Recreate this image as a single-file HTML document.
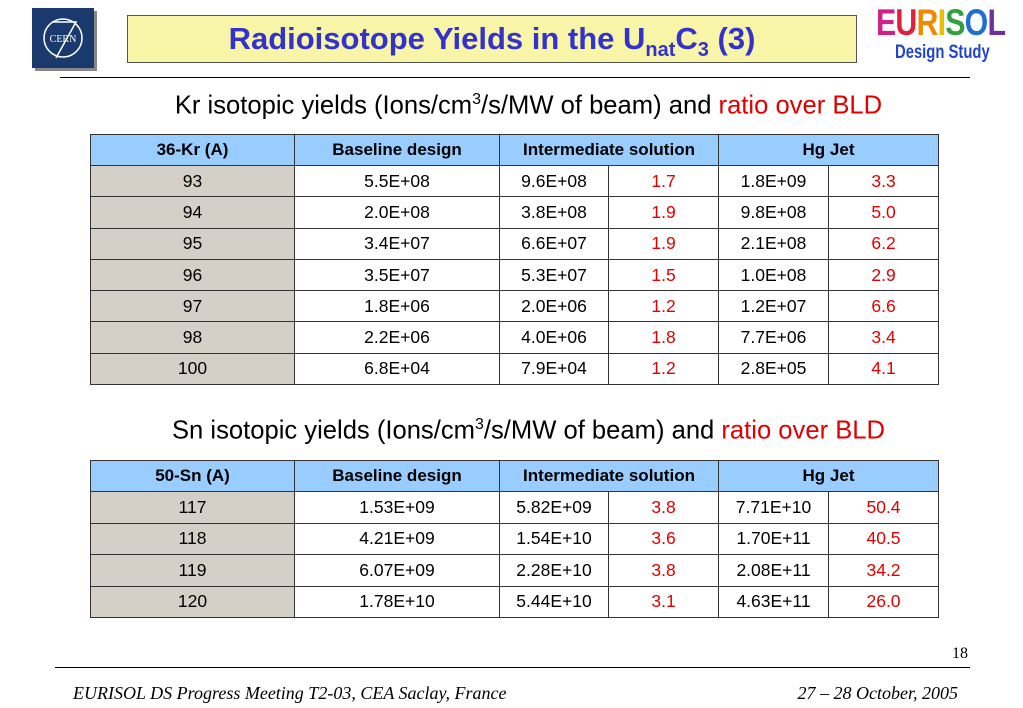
<!DOCTYPE html>
<html><head><meta charset="utf-8"><style>
body{margin:0;width:1023px;height:708px;background:#fff;position:relative;overflow:hidden;font-family:"Liberation Sans",sans-serif}
.abs{position:absolute}
table{position:absolute;border-collapse:collapse;left:90px;width:848px;table-layout:fixed}
td{border:1px solid #333;text-align:center;font-size:17.5px;padding:0;color:#000}
th{border:1px solid #333;background:#99ccff;font-size:17px;font-weight:bold;padding:0}
td.a{background:#d4d0c8}
td.r{color:#e00000}
.sub{font-size:25.6px;text-align:center;width:1023px;left:17px}
</style></head><body>
<div class="abs" style="left:32px;top:8px;width:62px;height:60px;background:#1a3a6e;box-shadow:3px 3px 0 #888;">
<svg width="62" height="60"><circle cx="31" cy="30" r="19" fill="none" stroke="#fff" stroke-width="1.5"/><path d="M20 14 L44 14 L24 50" fill="none" stroke="#fff" stroke-width="1.5"/><text x="31" y="34" fill="#fff" font-size="10" text-anchor="middle" font-family="Liberation Serif">CERN</text></svg></div>
<div class="abs" style="left:127px;top:15px;width:728px;height:46px;background:#f8f4a8;border:1px solid #555;text-align:center;line-height:46px;color:#3333cc;font-weight:bold;font-size:31px">Radioisotope Yields in the U<sub style="font-size:20px">nat</sub>C<sub style="font-size:20px">3</sub> (3)</div>
<div class="abs" style="left:876px;top:2px;font-weight:bold;font-size:37px;letter-spacing:-1px;transform:scaleX(0.82);transform-origin:left"><span style="color:#d0208a">E</span><span style="color:#e0203a">U</span><span style="color:#f08a00">R</span><span style="color:#e8c000">I</span><span style="color:#30a040">S</span><span style="color:#2070d0">O</span><span style="color:#7030a0">L</span></div>
<div class="abs" style="left:895px;top:42px;color:#2244cc;font-weight:bold;font-size:19px;transform:scaleX(0.78);transform-origin:left">Design Study</div>
<div class="abs" style="left:60px;top:77px;width:910px;height:1px;background:#000"></div>
<div class="abs sub" style="top:91px">Kr isotopic yields (Ions/cm<sup style="font-size:16px">3</sup>/s/MW of beam) and <span style="color:#e00000">ratio over BLD</span></div>
<table style="top:134px">
<colgroup><col style="width:204px"><col style="width:205px"><col style="width:109px"><col style="width:110px"><col style="width:110px"><col style="width:110px"></colgroup>
<tr style="height:31px"><th>36-Kr (A)</th><th>Baseline design</th><th colspan="2">Intermediate solution</th><th colspan="2">Hg Jet</th></tr>
<tr style="height:31.3px"><td class="a">93</td><td>5.5E+08</td><td>9.6E+08</td><td class="r">1.7</td><td>1.8E+09</td><td class="r">3.3</td></tr>
<tr style="height:31.3px"><td class="a">94</td><td>2.0E+08</td><td>3.8E+08</td><td class="r">1.9</td><td>9.8E+08</td><td class="r">5.0</td></tr>
<tr style="height:31.3px"><td class="a">95</td><td>3.4E+07</td><td>6.6E+07</td><td class="r">1.9</td><td>2.1E+08</td><td class="r">6.2</td></tr>
<tr style="height:31.3px"><td class="a">96</td><td>3.5E+07</td><td>5.3E+07</td><td class="r">1.5</td><td>1.0E+08</td><td class="r">2.9</td></tr>
<tr style="height:31.3px"><td class="a">97</td><td>1.8E+06</td><td>2.0E+06</td><td class="r">1.2</td><td>1.2E+07</td><td class="r">6.6</td></tr>
<tr style="height:31.3px"><td class="a">98</td><td>2.2E+06</td><td>4.0E+06</td><td class="r">1.8</td><td>7.7E+06</td><td class="r">3.4</td></tr>
<tr style="height:31.3px"><td class="a">100</td><td>6.8E+04</td><td>7.9E+04</td><td class="r">1.2</td><td>2.8E+05</td><td class="r">4.1</td></tr>
</table>
<div class="abs sub" style="top:416px">Sn isotopic yields (Ions/cm<sup style="font-size:16px">3</sup>/s/MW of beam) and <span style="color:#e00000">ratio over BLD</span></div>
<table style="top:460px">
<colgroup><col style="width:204px"><col style="width:205px"><col style="width:109px"><col style="width:110px"><col style="width:110px"><col style="width:110px"></colgroup>
<tr style="height:31px"><th>50-Sn (A)</th><th>Baseline design</th><th colspan="2">Intermediate solution</th><th colspan="2">Hg Jet</th></tr>
<tr style="height:31.5px"><td class="a">117</td><td>1.53E+09</td><td>5.82E+09</td><td class="r">3.8</td><td>7.71E+10</td><td class="r">50.4</td></tr>
<tr style="height:31.5px"><td class="a">118</td><td>4.21E+09</td><td>1.54E+10</td><td class="r">3.6</td><td>1.70E+11</td><td class="r">40.5</td></tr>
<tr style="height:31.5px"><td class="a">119</td><td>6.07E+09</td><td>2.28E+10</td><td class="r">3.8</td><td>2.08E+11</td><td class="r">34.2</td></tr>
<tr style="height:31.5px"><td class="a">120</td><td>1.78E+10</td><td>5.44E+10</td><td class="r">3.1</td><td>4.63E+11</td><td class="r">26.0</td></tr>
</table>
<div class="abs" style="left:952px;top:645px;font-family:'Liberation Serif',serif;font-size:16px">18</div>
<div class="abs" style="left:55px;top:667px;width:915px;height:1px;background:#000"></div>
<div class="abs" style="left:73px;top:683px;font-family:'Liberation Serif',serif;font-style:italic;font-size:18px">EURISOL DS Progress Meeting T2-03, CEA Saclay, France</div>
<div class="abs" style="right:65px;top:683px;font-family:'Liberation Serif',serif;font-style:italic;font-size:18px">27 – 28 October, 2005</div>
</body></html>
